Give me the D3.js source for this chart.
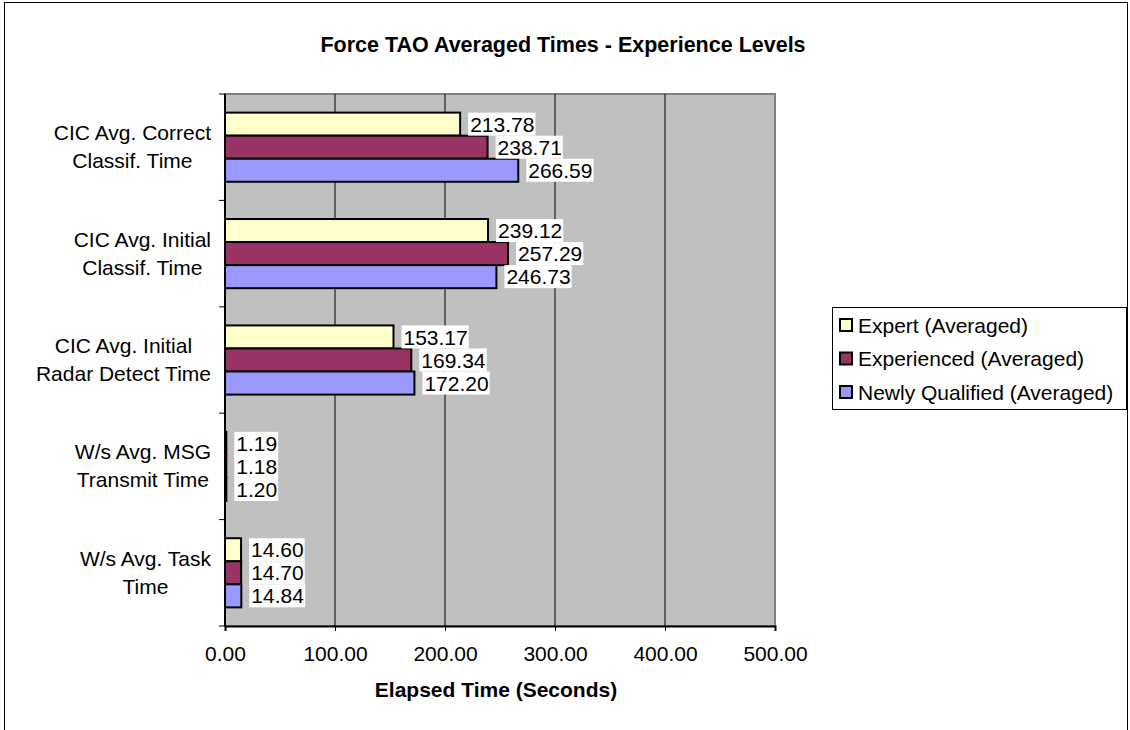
<!DOCTYPE html>
<html>
<head>
<meta charset="utf-8">
<script src="https://cdn.jsdelivr.net/npm/d3@7"></script>
<style>
  body { margin: 0; background: #fff; }
  text { font-family: Arial, "Liberation Sans", sans-serif; }
</style>
</head>
<body>
<div id="chart"></div>
<script>
const categories = [
  ["CIC Avg. Correct", "Classif. Time"],
  ["CIC Avg. Initial", "Classif. Time"],
  ["CIC Avg. Initial", "Radar Detect Time"],
  ["W/s Avg. MSG", "Transmit Time"],
  ["W/s Avg. Task", "Time"]
];
const seriesNames = ["Expert (Averaged)", "Experienced (Averaged)", "Newly Qualified (Averaged)"];
const expert = [213.78, 239.12, 153.17, 1.19, 14.60];
const experienced = [238.71, 257.29, 169.34, 1.18, 14.70];
const newlyQualified = [266.59, 246.73, 172.20, 1.20, 14.84];
const xTicks = [0, 100, 200, 300, 400, 500];
const colors = ["#FFFFCC", "#993366", "#9999FF"];

const width = 1130, height = 730;
const plot = { left: 225, right: 775, top: 94, bottom: 626 };
const fs = 21;

const svg = d3.select("#chart").append("svg")
  .attr("width", width)
  .attr("height", height);

// outer chart frame
svg.append("rect")
  .attr("x", 4.5).attr("y", 2.5)
  .attr("width", 1123).attr("height", 740)
  .attr("fill", "none").attr("stroke", "#000").attr("stroke-width", 1);

svg.append("text")
  .attr("x", 563).attr("y", 52)
  .attr("text-anchor", "middle")
  .attr("font-size", 21.5).attr("font-weight", "bold")
  .text("Force TAO Averaged Times - Experience Levels");

const x = d3.scaleLinear().domain([0, 500]).range([plot.left, plot.right]);
const y = d3.scaleBand().domain(d3.range(categories.length))
  .range([plot.top, plot.bottom]).paddingInner(0.35).paddingOuter(0.175);
const ySub = d3.scaleBand().domain(d3.range(3)).range([0, y.bandwidth()]);

// plot background
svg.append("rect")
  .attr("x", plot.left).attr("y", plot.top)
  .attr("width", plot.right - plot.left).attr("height", plot.bottom - plot.top)
  .attr("fill", "#C0C0C0").attr("stroke", "#808080").attr("stroke-width", 2);

// grid lines
svg.append("g").selectAll("line")
  .data(xTicks.slice(1, -1))
  .join("line")
  .attr("x1", d => x(d)).attr("x2", d => x(d))
  .attr("y1", plot.top).attr("y2", plot.bottom)
  .attr("stroke", "#000").attr("stroke-width", 1);

// x axis
const xAxis = svg.append("g")
  .attr("transform", `translate(0,${plot.bottom})`)
  .call(d3.axisBottom(x).tickValues(xTicks).tickSize(5).tickPadding(15).tickFormat(d3.format(".2f")));
xAxis.select(".domain").attr("stroke", "#000").attr("stroke-width", 2);
xAxis.selectAll(".tick line").attr("stroke", "#000");
xAxis.selectAll("text").attr("font-size", fs).attr("fill", "#000")
  .attr("font-family", "Arial, 'Liberation Sans', sans-serif");

svg.append("text")
  .attr("x", 496).attr("y", 697)
  .attr("text-anchor", "middle")
  .attr("font-size", fs).attr("font-weight", "bold")
  .text("Elapsed Time (Seconds)");

// y axis with ticks at category boundaries
const step = (plot.bottom - plot.top) / categories.length;
svg.append("line")
  .attr("x1", plot.left).attr("x2", plot.left)
  .attr("y1", plot.top).attr("y2", plot.bottom)
  .attr("stroke", "#000").attr("stroke-width", 2);
svg.append("g").selectAll("line")
  .data(d3.range(categories.length + 1))
  .join("line")
  .attr("x1", plot.left - 6).attr("x2", plot.left)
  .attr("y1", i => plot.top + i * step).attr("y2", i => plot.top + i * step)
  .attr("stroke", "#000").attr("stroke-width", 1);

// category labels: block right-aligned near the axis, lines centred in the block
const labelRight = 211;
svg.append("g").selectAll("text")
  .data(categories)
  .join("text")
  .attr("text-anchor", "middle")
  .attr("font-size", fs)
  .attr("y", (d, i) => y(i) + y.bandwidth() / 2)
  .each(function(d) {
    const t = d3.select(this);
    const a = t.append("tspan").attr("dy", "-0.33em").text(d[0]);
    const b = t.append("tspan").attr("dy", "1.33em").text(d[1]);
    const w = Math.max(a.node().getComputedTextLength(), b.node().getComputedTextLength());
    const cx = labelRight - w / 2;
    a.attr("x", cx);
    b.attr("x", cx);
  });

// bars
const series = [expert, experienced, newlyQualified];
const rows = [];
series.forEach((vals, s) => vals.forEach((v, i) => rows.push({ s, i, v })));

svg.append("g").selectAll("rect")
  .data(rows)
  .join("rect")
  .attr("x", x(0))
  .attr("y", d => y(d.i) + ySub(d.s))
  .attr("width", d => x(d.v) - x(0))
  .attr("height", ySub.bandwidth())
  .attr("fill", d => colors[d.s])
  .attr("stroke", "#000").attr("stroke-width", 2);

// value labels
const labels = svg.append("g").selectAll("g")
  .data(rows)
  .join("g")
  .attr("transform", d => `translate(${x(d.v) + 8},${y(d.i) + ySub(d.s) + ySub.bandwidth() / 2})`);
labels.append("text")
  .attr("font-size", fs)
  .attr("dy", "0.36em")
  .attr("x", 2)
  .text(d => d3.format(".2f")(d.v));
labels.each(function() {
  const g = d3.select(this);
  const b = g.select("text").node().getBBox();
  g.insert("rect", "text")
    .attr("x", b.x - 2).attr("y", -11.5)
    .attr("width", b.width + 3).attr("height", 23)
    .attr("fill", "#fff");
});

// legend
const legend = svg.append("g");
legend.append("rect")
  .attr("x", 832.5).attr("y", 307.5)
  .attr("width", 294).attr("height", 102)
  .attr("fill", "#fff").attr("stroke", "#000").attr("stroke-width", 1);
const items = legend.selectAll("g.item")
  .data(seriesNames)
  .join("g")
  .attr("class", "item")
  .attr("transform", (d, i) => `translate(840,${325 + i * 33.5})`);
items.append("rect")
  .attr("x", 0).attr("y", -6)
  .attr("width", 12).attr("height", 12)
  .attr("fill", (d, i) => colors[i])
  .attr("stroke", "#000").attr("stroke-width", 2);
items.append("text")
  .attr("x", 18).attr("dy", "0.36em")
  .attr("font-size", fs)
  .text(d => d);
</script>
</body>
</html>
